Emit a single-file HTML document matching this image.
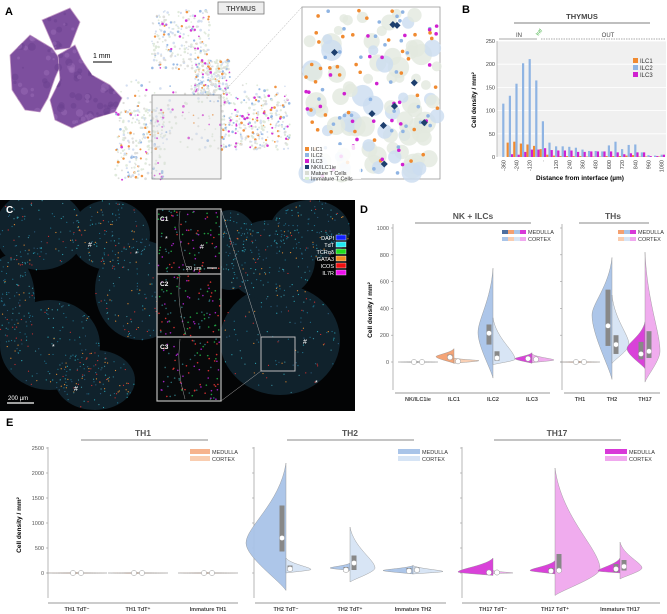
<!DOCTYPE html>
<html><head><meta charset="utf-8">
<style>
html,body{margin:0;padding:0;background:#fff;}
svg{display:block;font-family:"Liberation Sans",sans-serif;}
</style></head>
<body>
<svg id="fig" width="667" height="614" viewBox="0 0 667 614" xmlns="http://www.w3.org/2000/svg">
<defs>
  <clipPath id="heClip">
    <path d="M42,20 L70,8 L80,22 L70,48 L55,50 Z"/>
    <path d="M10,55 L30,35 L52,48 L62,62 L55,78 L48,98 L40,112 L25,110 L12,90 Z"/>
    <path d="M58,55 L75,45 L82,60 L92,75 L110,85 L122,98 L115,112 L95,118 L72,128 L55,120 L50,100 L60,80 Z"/>
  </clipPath>
  <clipPath id="cClip"><rect x="0" y="200" width="355" height="211"/></clipPath>
</defs>
<!-- Panel A -->
<g>
  <text x="5" y="15" font-size="11" font-weight="bold">A</text>
  <g fill="#7d4f9e" stroke="#c8a0c8" stroke-width="0.8">
    <path d="M42,20 L70,8 L80,22 L70,48 L55,50 Z"/>
    <path d="M10,55 L30,35 L52,48 L62,62 L55,78 L48,98 L40,112 L25,110 L12,90 Z"/>
    <path d="M58,55 L75,45 L82,60 L92,75 L110,85 L122,98 L115,112 L95,118 L72,128 L55,120 L50,100 L60,80 Z"/>
  </g>
  <g id="heTex" clip-path="url(#heClip)"></g>
  <line x1="93" y1="62" x2="112" y2="62" stroke="#333" stroke-width="1.2"/>
  <text x="93" y="58" font-size="7">1 mm</text>
  <g id="scatterA"></g>
  <rect x="218" y="2" width="46" height="12" fill="#eee" stroke="#777" stroke-width="0.8"/>
  <text x="241" y="11" font-size="7" font-weight="bold" fill="#555" text-anchor="middle">THYMUS</text>
  <rect x="152" y="95" width="69" height="84" fill="rgba(220,220,220,0.35)" stroke="#888" stroke-width="0.8"/>
  <line x1="221" y1="95" x2="302" y2="7" stroke="#aaa" stroke-width="0.5" stroke-dasharray="2,1"/>
  <rect x="302" y="7" width="138" height="172" fill="#fff" stroke="#999" stroke-width="0.8"/>
  <g id="zoomA"></g>
  <g font-size="5.5" fill="#333">
    <rect x="303" y="145" width="58" height="34" fill="rgba(255,255,255,0.85)"/>
    <rect x="305" y="147" width="4" height="4" fill="#f08a30"/><text x="311" y="151">ILC1</text>
    <rect x="305" y="153" width="4" height="4" fill="#8fb4e3"/><text x="311" y="157">ILC2</text>
    <rect x="305" y="159" width="4" height="4" fill="#d020d0"/><text x="311" y="163">ILC3</text>
    <rect x="305" y="165" width="4" height="4" fill="#1d3f6e"/><text x="311" y="169">NK/ILC1ie</text>
    <rect x="305" y="171" width="4" height="4" fill="#d8dcd4"/><text x="311" y="175">Mature T Cells</text>
    <rect x="305" y="177" width="4" height="3" fill="#d8efd0"/><text x="311" y="180.5">Immature T Cells</text>
  </g>
</g>

<!-- Panel B -->
<g>
  <text x="462" y="13" font-size="11" font-weight="bold">B</text>
  <text x="582" y="19" font-size="7.5" font-weight="bold" fill="#444" text-anchor="middle">THYMUS</text>
  <line x1="514" y1="23" x2="650" y2="23" stroke="#555" stroke-width="0.8"/>
  <line x1="499" y1="39" x2="537" y2="39" stroke="#555" stroke-width="0.6"/>
  <text x="519" y="37" font-size="6" fill="#444" text-anchor="middle">IN</text>
  <text x="538" y="36" font-size="5" fill="#3a3" transform="rotate(-50 538 36)">Intf</text>
  <line x1="541" y1="39" x2="665" y2="39" stroke="#555" stroke-width="0.6" stroke-dasharray="1.5,1"/>
  <text x="608" y="37" font-size="6" fill="#444" text-anchor="middle">OUT</text>
  <rect x="497" y="41" width="169" height="116" fill="#f0f0f0"/>
  <g id="chartB"></g>
  <text x="476" y="100" font-size="6.5" font-weight="bold" text-anchor="middle" transform="rotate(-90 476 100)">Cell density / mm²</text>
  <text x="580" y="180" font-size="6.5" font-weight="bold" text-anchor="middle">Distance from interface (µm)</text>
  <g font-size="6" fill="#333">
    <rect x="633" y="58" width="5" height="5" fill="#f08a30"/><text x="640" y="63">ILC1</text>
    <rect x="633" y="65" width="5" height="5" fill="#8fb4e3"/><text x="640" y="70">ILC2</text>
    <rect x="633" y="72" width="5" height="5" fill="#d020d0"/><text x="640" y="77">ILC3</text>
  </g>
</g>

<!-- Panel C -->
<g>
  <rect x="0" y="200" width="355" height="211" fill="#030405"/>
  <g id="tissueC" clip-path="url(#cClip)"></g>
  <text x="6" y="213" font-size="10" font-weight="bold" fill="#fff">C</text>
  <rect x="261" y="337" width="34" height="34" fill="none" stroke="#bbb" stroke-width="1"/>
  <line x1="221" y1="209" x2="261" y2="337" stroke="#aaa" stroke-width="0.5"/>
  <line x1="221" y1="401" x2="261" y2="371" stroke="#aaa" stroke-width="0.5"/>
  <g>
    <rect x="157" y="209" width="64" height="192" fill="#07090a" stroke="#bbb" stroke-width="1.2"/>
    <line x1="157" y1="274" x2="221" y2="274" stroke="#bbb" stroke-width="1.2"/>
    <line x1="157" y1="337" x2="221" y2="337" stroke="#bbb" stroke-width="1.2"/>
    <g id="insetDots"></g>
    <path d="M180,211 Q176,240 188,272 M180,276 Q176,300 186,335 M180,339 Q176,370 185,399" fill="none" stroke="#999" stroke-width="0.5"/>
    <text x="160" y="221" font-size="6.5" font-weight="bold" fill="#fff">C1</text>
    <text x="160" y="286" font-size="6.5" font-weight="bold" fill="#fff">C2</text>
    <text x="160" y="349" font-size="6.5" font-weight="bold" fill="#fff">C3</text>
    <text x="165" y="241" font-size="7" fill="#fff">*</text>
    <text x="200" y="249" font-size="7" fill="#fff">#</text>
    <text x="186" y="270" font-size="5.5" fill="#fff">20 µm</text>
    <line x1="207" y1="268" x2="217" y2="268" stroke="#fff" stroke-width="1"/>
  </g>
  <g fill="#fff" font-size="7">
    <text x="88" y="247">#</text><text x="135" y="256">*</text><text x="52" y="349">*</text>
    <text x="74" y="391">#</text><text x="303" y="344">#</text><text x="315" y="385">*</text>
  </g>
  <line x1="7" y1="403" x2="34" y2="403" stroke="#fff" stroke-width="1.2"/>
  <text x="8" y="400" font-size="6" fill="#fff">200 µm</text>
  <g font-size="5.5" fill="#fff" text-anchor="end">
    <text x="334" y="240">DAPI</text><rect x="336" y="235" width="10" height="5" fill="#1020ff" stroke="#fff" stroke-width="0.4"/>
    <text x="334" y="247">TdT</text><rect x="336" y="242" width="10" height="5" fill="#20e8f0" stroke="#fff" stroke-width="0.4"/>
    <text x="334" y="254">TCRαδ</text><rect x="336" y="249" width="10" height="5" fill="#20dd20" stroke="#fff" stroke-width="0.4"/>
    <text x="334" y="261">GATA3</text><rect x="336" y="256" width="10" height="5" fill="#f08a20" stroke="#fff" stroke-width="0.4"/>
    <text x="334" y="268">ICOS</text><rect x="336" y="263" width="10" height="5" fill="#ee1010" stroke="#fff" stroke-width="0.4"/>
    <text x="334" y="275">IL7R</text><rect x="336" y="270" width="10" height="5" fill="#ee10ee" stroke="#fff" stroke-width="0.4"/>
  </g>
</g>

<!-- Panel D -->
<g>
  <text x="360" y="213" font-size="11" font-weight="bold">D</text>
  <text x="473" y="219" font-size="8.5" font-weight="bold" fill="#555" text-anchor="middle">NK + ILCs</text>
  <line x1="415" y1="223" x2="531" y2="223" stroke="#888" stroke-width="1"/>
  <text x="613" y="219" font-size="8.5" font-weight="bold" fill="#555" text-anchor="middle">THs</text>
  <line x1="579" y1="223" x2="649" y2="223" stroke="#888" stroke-width="1"/>
  <g id="chartD"></g>
  <text x="372" y="310" font-size="6.5" font-weight="bold" text-anchor="middle" transform="rotate(-90 372 310)">Cell density / mm²</text>
  <g font-size="5.5" fill="#333">
    <rect x="502" y="230" width="6" height="4" fill="#4d6fa0"/><rect x="508" y="230" width="6" height="4" fill="#f4a070"/><rect x="514" y="230" width="6" height="4" fill="#a9c4e8"/><rect x="520" y="230" width="6" height="4" fill="#d838d8"/>
    <text x="528" y="234">MEDULLA</text>
    <rect x="502" y="237" width="6" height="4" fill="#a9c4e8"/><rect x="508" y="237" width="6" height="4" fill="#f9cdb0"/><rect x="514" y="237" width="6" height="4" fill="#d6e4f5"/><rect x="520" y="237" width="6" height="4" fill="#f0a8ee"/>
    <text x="528" y="241">CORTEX</text>
  </g>
  <g font-size="5.5" fill="#333">
    <rect x="618" y="230" width="6" height="4" fill="#f4a070"/><rect x="624" y="230" width="6" height="4" fill="#a9c4e8"/><rect x="630" y="230" width="6" height="4" fill="#d838d8"/>
    <text x="638" y="234">MEDULLA</text>
    <rect x="618" y="237" width="6" height="4" fill="#f9cdb0"/><rect x="624" y="237" width="6" height="4" fill="#d6e4f5"/><rect x="630" y="237" width="6" height="4" fill="#f0a8ee"/>
    <text x="638" y="241">CORTEX</text>
  </g>
</g>

<!-- Panel E -->
<g>
  <text x="6" y="426" font-size="11" font-weight="bold">E</text>
  <text x="143" y="436" font-size="8.5" font-weight="bold" fill="#555" text-anchor="middle">TH1</text>
  <line x1="81" y1="440" x2="208" y2="440" stroke="#888" stroke-width="1"/>
  <text x="350" y="436" font-size="8.5" font-weight="bold" fill="#555" text-anchor="middle">TH2</text>
  <line x1="287" y1="440" x2="414" y2="440" stroke="#888" stroke-width="1"/>
  <text x="557" y="436" font-size="8.5" font-weight="bold" fill="#555" text-anchor="middle">TH17</text>
  <line x1="494" y1="440" x2="621" y2="440" stroke="#888" stroke-width="1"/>
  <g id="chartE"></g>
  <text x="21" y="525" font-size="6.5" font-weight="bold" text-anchor="middle" transform="rotate(-90 21 525)">Cell density / mm²</text>
  <g font-size="5.5" fill="#333">
    <rect x="190" y="449" width="20" height="5" fill="#f4a070" opacity="0.8"/><text x="212" y="454">MEDULLA</text>
    <rect x="190" y="456" width="20" height="5" fill="#f9cdb0"/><text x="212" y="461">CORTEX</text>
    <rect x="398" y="449" width="22" height="5" fill="#a9c4e8"/><text x="422" y="454">MEDULLA</text>
    <rect x="398" y="456" width="22" height="5" fill="#d6e4f5"/><text x="422" y="461">CORTEX</text>
    <rect x="605" y="449" width="22" height="5" fill="#d838d8"/><text x="629" y="454">MEDULLA</text>
    <rect x="605" y="456" width="22" height="5" fill="#f0a8ee"/><text x="629" y="461">CORTEX</text>
  </g>
</g>
</svg>
<script>
// ---------- Panel B data ----------
const binLabels = ["-360","-300","-240","-180","-120","-60","0","60","120","180","240","300","360","420","480","540","600","660","720","780","840","900","960","1020","1080"];
const tickLabelsB = ["-360","-240","-120","·","120","240","360","480","600","720","840","960","1080"];
const ilc1Values = [0,31,33,29,27,24,17,5,3,2,2,2,2,1,1,1,2,2,2,3,4,1,1,0,1];
const ilc2Values = [115,132,158,202,211,165,77,31,23,23,22,20,16,13,13,12,25,33,17,26,27,10,4,3,5];
const ilc3Values = [0,6,5,11,16,16,19,15,14,14,14,11,11,12,12,12,12,10,6,8,10,10,2,2,5];
const yTicksB = [0,50,100,150,200,250];

// ---------- Panel D data ----------
const catD = ["NK/ILC1ie","ILC1","ILC2","ILC3","TH1","TH2","TH17"];
const medMinD = [-5,-10,-120,-10,-5,-130,-50];
const medPeakD = [0,40,220,25,0,350,100];
const medMaxD = [5,100,700,70,5,780,300];
const medWidthD = [20,18,15,17,20,20,18];
const medMedianD = [0,35,215,25,0,270,60];
const medQ1D = [0,20,130,15,0,120,20];
const medQ3D = [0,55,280,35,0,540,150];
const corMinD = [-5,-10,-20,-5,-5,-10,-150];
const corPeakD = [0,10,20,15,0,130,80];
const corMaxD = [5,30,330,60,5,500,820];
const corWidthD = [20,25,22,22,20,17,15];
const corMedianD = [0,5,30,20,0,130,80];
const corQ1D = [0,0,10,10,0,60,30];
const corQ3D = [0,10,80,30,0,200,230];
const yTicksD = [0,200,400,600,800,1000];

// ---------- Panel E data ----------
const catE = ["TH1 TdT⁻","TH1 TdT⁺","Immature TH1","TH2 TdT⁻","TH2 TdT⁺","Immature TH2","TH17 TdT⁻","TH17 TdT⁺","Immature TH17"];
const medMinE = [-10,-10,-10,-350,50,-20,-50,-20,0];
const medPeakE = [0,0,0,600,100,50,20,50,40];
const medMaxE = [10,10,10,2200,200,150,300,250,300];
const medWidthE = [30,30,30,40,20,30,35,25,22];
const medMedianE = [0,0,0,700,60,40,10,40,80];
const medQ1E = [0,0,0,430,20,10,0,10,20];
const medQ3E = [0,0,0,1350,120,100,40,100,180];
const corMinE = [-10,-10,-10,0,-180,-20,-10,-450,-120];
const corPeakE = [0,0,0,70,100,30,0,80,100];
const corMaxE = [10,10,10,300,920,150,50,2100,620];
const corWidthE = [30,30,30,25,25,30,20,45,22];
const corMedianE = [0,0,0,80,200,60,10,50,130];
const corQ1E = [0,0,0,40,60,20,0,20,50];
const corQ3E = [0,0,0,150,350,110,30,380,260];
const yTicksE = [0,500,1000,1500,2000,2500];

const NS = "http://www.w3.org/2000/svg";
function mk(tag, attrs, parent){ const e=document.createElementNS(NS,tag); for(const k in attrs) e.setAttribute(k,attrs[k]); parent.appendChild(e); return e; }

// ---------- decorative image textures (seeded) ----------
let seed = 7; function rnd(){ seed=(seed*16807)%2147483647; return (seed-1)/2147483646; }
(function(){
  const he=document.getElementById('heTex');
  for(let i=0;i<160;i++){ const x=10+rnd()*110, y=10+rnd()*118;
    mk('circle',{cx:x,cy:y,r:1+rnd()*3,fill:rnd()<0.5?'#9a6cb6':'#6a3f8e',opacity:0.5},he); }
  const sa=document.getElementById('scatterA');
  const regions=[[152,10,210,70],[120,80,290,150],[115,110,165,180],[195,60,230,95],[220,95,290,150]];
  const cols=['#dde8d8','#dde8d8','#dde8d8','#dde8d8','#cfdcef','#cfdcef','#f08a30','#8fb4e3','#d020d0','#dcdcd8','#dcdcd8'];
  regions.forEach(r=>{ for(let i=0;i<220;i++){ const x=r[0]+rnd()*(r[2]-r[0]), y=r[1]+rnd()*(r[3]-r[1]);
    mk('circle',{cx:x,cy:y,r:0.8+rnd()*0.6,fill:cols[Math.floor(rnd()*cols.length)],opacity:0.9},sa);} });
  const za=document.getElementById('zoomA');
  for(let i=0;i<90;i++) mk('circle',{cx:305+rnd()*133,cy:10+rnd()*166,r:4+rnd()*7,fill:rnd()<0.6?'#e2e8de':'#cbdcf0',opacity:0.8},za);
  const zc=['#f08a30','#d020d0','#8fb4e3'];
  for(let i=0;i<110;i++) mk('circle',{cx:305+rnd()*133,cy:10+rnd()*166,r:1.8,fill:zc[Math.floor(rnd()*3)]},za);
  for(let i=0;i<9;i++){ const x=315+rnd()*120,y=20+rnd()*150; mk('rect',{x:x-2.5,y:y-2.5,width:5,height:5,fill:'#1d3f6e',transform:`rotate(45 ${x} ${y})`},za); }
  const tc=document.getElementById('tissueC');
  const blobs=[[40,230,45,40],[110,235,40,35],[140,290,45,50],[50,345,50,45],[95,380,40,30],[280,340,60,55],[270,260,45,40],[310,230,40,30],[230,250,30,40],[10,300,25,45]];
  blobs.forEach(b=>mk('ellipse',{cx:b[0],cy:b[1],rx:b[2],ry:b[3],fill:'#10222c'},tc));
  const dc=['#2aa0b0','#1e6f8a','#1e6f8a','#e08a30','#d03030','#3a8a9a','#2a5a7a'];
  blobs.forEach(b=>{ for(let i=0;i<110;i++){ const a=rnd()*6.28, rr=Math.sqrt(rnd());
    mk('circle',{cx:b[0]+Math.cos(a)*rr*b[2],cy:b[1]+Math.sin(a)*rr*b[3],r:0.6,fill:dc[Math.floor(rnd()*dc.length)]},tc);} });
  const ins=document.getElementById('insetDots');
  const ic=['#20a040','#a020c0','#d03030','#2a6a70'];
  for(let i=0;i<260;i++) mk('circle',{cx:158+rnd()*62,cy:210+rnd()*190,r:0.8,fill:ic[Math.floor(rnd()*4)]},ins);
})();

// ---------- Panel B ----------
(function(){
  const g=document.getElementById('chartB');
  const x0=497, x1=666, yBase=157, yTop=41, ymax=250;
  const y=v=>yBase-(v/ymax)*(yBase-yTop);
  const bw=(x1-x0-4)/binLabels.length;
  const xb=i=>x0+3+i*bw;
  yTicksB.forEach(t=>{ mk('line',{x1:x0,x2:x1,y1:y(t),y2:y(t),stroke:'#fff','stroke-width':0.8},g);
    const tx=mk('text',{x:x0-2,y:y(t)+2,'font-size':5.5,'text-anchor':'end',fill:'#444'},g); tx.textContent=t; });
  binLabels.forEach((b,i)=>{
    const w=bw/3;
    const r1=mk('rect',{x:xb(i),y:y(ilc1Values[i]),width:w,height:yBase-y(ilc1Values[i]),fill:'#f08a30'},g);
    
    
    const r2=mk('rect',{x:xb(i)+w,y:y(ilc2Values[i]),width:w,height:yBase-y(ilc2Values[i]),fill:'#8fb4e3'},g);
    
    
    const r3=mk('rect',{x:xb(i)+2*w,y:y(ilc3Values[i]),width:w,height:yBase-y(ilc3Values[i]),fill:'#d020d0'},g);
    
    
  });
  mk('line',{x1:x0,x2:x0,y1:yTop,y2:yBase,stroke:'#999','stroke-width':0.6},g);
  tickLabelsB.forEach((t,i)=>{ const cx=xb(i*2)+bw/2;
    const tx=mk('text',{x:cx+2,y:yBase+3,'font-size':5.5,'text-anchor':'end',fill:'#444',transform:`rotate(-90 ${cx+2} ${yBase+3})`},g); tx.textContent=t; });
})();

// ---------- violin drawing ----------
function halfViolin(g, cx, side, ys, mn, pk, mx, w, fill){
  const d=`M${cx},${ys(mx)} C${cx+side*w*0.15},${ys(mx)+ (ys(pk)-ys(mx))*0.5} ${cx+side*w},${ys(pk)-(ys(pk)-ys(mx))*0.2} ${cx+side*w},${ys(pk)} C${cx+side*w},${ys(pk)+(ys(mn)-ys(pk))*0.3} ${cx+side*w*0.15},${ys(mn)-(ys(mn)-ys(pk))*0.2} ${cx},${ys(mn)} Z`;
  return mk('path',{d:d,fill:fill,stroke:'#888','stroke-width':0.4,opacity:0.95},g);
}
function box(g,cx,ys,q1,q3,med){
  if(q3>q1) mk('rect',{x:cx-2.5,y:ys(q3),width:5,height:Math.max(1,ys(q1)-ys(q3)),fill:'#888'},g);
  mk('circle',{cx:cx,cy:ys(med),r:2.6,fill:'#fff',stroke:'#999','stroke-width':0.5},g);
}

// ---------- Panel D ----------
(function(){
  const g=document.getElementById('chartD');
  const y0=362, y1000=228; const ys=v=>y0-(v/1000)*(y0-y1000);
  const axX=[393,562]; const catX=[418,454,493,532,580,612,645];
  const medCol=['#bbb','#f4a070','#a9c4e8','#d838d8','#f4a070','#a9c4e8','#d838d8'];
  const corCol=['#ddd','#f9cdb0','#d6e4f5','#f0a8ee','#f9cdb0','#d6e4f5','#f0a8ee'];
  axX.forEach((ax,k)=>{ mk('line',{x1:ax,x2:ax,y1:224,y2:390,stroke:'#999','stroke-width':0.7},g);
    yTicksD.forEach(t=>{ mk('line',{x1:ax-2,x2:ax,y1:ys(t),y2:ys(t),stroke:'#999','stroke-width':0.6},g);
      if(k===0){ const tx=mk('text',{x:ax-4,y:ys(t)+2,'font-size':5.5,'text-anchor':'end',fill:'#555'},g); tx.textContent=t; } }); });
  mk('line',{x1:395,x2:550,y1:393,y2:393,stroke:'#999','stroke-width':1},g);
  mk('line',{x1:564,x2:660,y1:393,y2:393,stroke:'#999','stroke-width':1},g);
  catD.forEach((c,i)=>{
    const cx=catX[i];
    const vm=halfViolin(g,cx,-1,ys,medMinD[i],medPeakD[i],medMaxD[i],medWidthD[i],medCol[i]);
    
    
    const vc=halfViolin(g,cx,1,ys,corMinD[i],corPeakD[i],corMaxD[i],corWidthD[i],corCol[i]);
    
    
    box(g,cx-4,ys,medQ1D[i],medQ3D[i],medMedianD[i]);
    box(g,cx+4,ys,corQ1D[i],corQ3D[i],corMedianD[i]);
    const tx=mk('text',{x:cx,y:401,'font-size':5.5,'font-weight':'bold','text-anchor':'middle',fill:'#444'},g); tx.textContent=c;
  });
})();

// ---------- Panel E ----------
(function(){
  const g=document.getElementById('chartE');
  const y0=573, y2500=448; const ys=v=>y0-(v/2500)*(y0-y2500);
  const axX=[48,254,462]; const catX=[77,138,208,286,350,413,493,555,620];
  const medCol=['#f4a070','#f4a070','#f4a070','#a9c4e8','#a9c4e8','#a9c4e8','#d838d8','#d838d8','#d838d8'];
  const corCol=['#f9cdb0','#f9cdb0','#f9cdb0','#d6e4f5','#d6e4f5','#d6e4f5','#f0a8ee','#f0a8ee','#f0a8ee'];
  axX.forEach((ax,k)=>{ mk('line',{x1:ax,x2:ax,y1:447,y2:598,stroke:'#999','stroke-width':0.7},g);
    yTicksE.forEach(t=>{ mk('line',{x1:ax-2,x2:ax,y1:ys(t),y2:ys(t),stroke:'#999','stroke-width':0.6},g);
      if(k===0){ const tx=mk('text',{x:ax-4,y:ys(t)+2,'font-size':5.5,'text-anchor':'end',fill:'#555'},g); tx.textContent=t; } }); });
  [[48,238],[255,446],[462,660]].forEach(s=>mk('line',{x1:s[0],x2:s[1],y1:603,y2:603,stroke:'#999','stroke-width':1},g));
  catE.forEach((c,i)=>{
    const cx=catX[i];
    const vm=halfViolin(g,cx,-1,ys,medMinE[i],medPeakE[i],medMaxE[i],medWidthE[i],medCol[i]);
    
    
    const vc=halfViolin(g,cx,1,ys,corMinE[i],corPeakE[i],corMaxE[i],corWidthE[i],corCol[i]);
    
    
    box(g,cx-4,ys,medQ1E[i],medQ3E[i],medMedianE[i]);
    box(g,cx+4,ys,corQ1E[i],corQ3E[i],corMedianE[i]);
    const tx=mk('text',{x:cx,y:611,'font-size':5.5,'font-weight':'bold','text-anchor':'middle',fill:'#444'},g); tx.textContent=c;
  });
})();
</script>
</body></html>
